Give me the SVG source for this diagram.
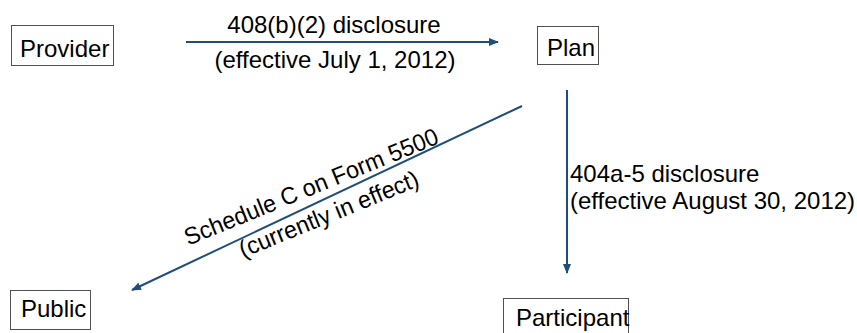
<svg xmlns="http://www.w3.org/2000/svg" width="857" height="333" viewBox="0 0 857 333">
<style>
  .box { fill: #ffffff; stroke: #505050; stroke-width: 1; }
  .lbl { font-family: "Liberation Sans", Arial, sans-serif; font-size: 24px; fill: #000000; }
  .edge { stroke: #1F4E79; stroke-width: 2; fill: none; }
</style>
<defs>
  <marker id="arr" markerUnits="userSpaceOnUse" markerWidth="10" markerHeight="8" refX="9" refY="4" orient="auto">
    <path d="M0,0 L10,4 L0,8 Z" fill="#1F4E79"/>
  </marker>
</defs>
<rect width="857" height="333" fill="#ffffff"/>
<g id="connectors">
  <g id="e-provider-plan">
    <line class="edge" x1="186" y1="42" x2="498" y2="42" marker-end="url(#arr)"/>
    <text class="lbl" x="334" y="33" text-anchor="middle">408(b)(2) disclosure</text>
    <text class="lbl" x="335" y="68" text-anchor="middle">(effective July 1, 2012)</text>
  </g>
  <g id="e-plan-participant">
    <line class="edge" x1="567" y1="90" x2="567" y2="273" marker-end="url(#arr)"/>
    <text class="lbl" x="570" y="182">404a-5 disclosure</text>
    <text class="lbl" x="570" y="209">(effective August 30, 2012)</text>
  </g>
  <g id="e-plan-public">
    <line class="edge" x1="522" y1="106" x2="132" y2="290" marker-end="url(#arr)"/>
    <g transform="translate(188.3,245.7) rotate(-22.2)">
      <text class="lbl" x="0" y="0" textLength="272" lengthAdjust="spacingAndGlyphs">Schedule C on Form 5500</text>
      <text class="lbl" x="46" y="32" textLength="192" lengthAdjust="spacingAndGlyphs">(currently in effect)</text>
    </g>
  </g>
</g>
<g id="provider">
  <rect class="box" x="11.5" y="25.5" width="102" height="40"/>
  <text class="lbl" x="20" y="57">Provider</text>
</g>
<g id="plan">
  <rect class="box" x="537.5" y="26.5" width="61" height="38"/>
  <text class="lbl" x="547" y="56">Plan</text>
</g>
<g id="public">
  <rect class="box" x="10.5" y="290.5" width="80" height="39"/>
  <text class="lbl" x="21" y="317">Public</text>
</g>
<g id="participant">
  <rect class="box" x="503.5" y="298.5" width="125" height="40"/>
  <text class="lbl" x="516" y="326">Participant</text>
</g>
</svg>
